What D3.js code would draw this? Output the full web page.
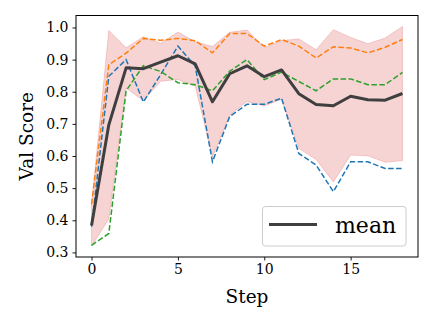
<!DOCTYPE html>
<html>
<head>
<meta charset="utf-8">
<script src="https://cdn.jsdelivr.net/npm/d3@7"></script>
<style>
  body { margin: 0; background: #fff; }
  text { font-family: 'DejaVu Serif', serif; fill: #000; }
</style>
</head>
<body>
<div id="chart"></div>
<script>
const steps = d3.range(0, 19);
const runBlue = [0.38, 0.848, 0.90, 0.768, 0.853, 0.942, 0.88, 0.582, 0.723, 0.761,
  0.761, 0.78, 0.608, 0.572, 0.489, 0.582, 0.582, 0.561, 0.561];
const runOrange = [0.45, 0.884, 0.92, 0.966, 0.96, 0.966, 0.959, 0.921, 0.981, 0.981,
  0.942, 0.9625, 0.942, 0.905, 0.94, 0.936, 0.921, 0.9385, 0.9625];
const runGreen = [0.322, 0.359, 0.803, 0.881, 0.863, 0.828, 0.822, 0.803, 0.864, 0.90,
  0.8375, 0.861, 0.832, 0.803, 0.84, 0.84, 0.822, 0.822, 0.86];
const xTicks = [0, 5, 10, 15];
const yTicks = [0.3, 0.4, 0.5, 0.6, 0.7, 0.8, 0.9, 1.0];

const runs = [
  { values: runBlue, color: '#1f77b4' },
  { values: runOrange, color: '#ff7f0e' },
  { values: runGreen, color: '#2ca02c' },
];

// mean and sample std across the runs, per step
const stats = steps.map((s, i) => {
  const vals = runs.map((r) => r.values[i]);
  const m = d3.mean(vals);
  const sd = d3.deviation(vals);
  return { step: s, mean: m, lo: m - sd, hi: m + sd };
});

const width = 434,
  height = 325;
const margin = {
  top: 15.5, right: 16, bottom: 68, left: 76,
};

const svg = d3.select('#chart')
  .append('svg')
  .attr('width', width)
  .attr('height', height);

const x = d3.scaleLinear()
  .domain([-0.9, 18.9])
  .range([margin.left, width - margin.right]);

const allVals = [].concat(
  stats.map((d) => d.lo), stats.map((d) => d.hi),
  runBlue, runOrange, runGreen,
);
const yMin = d3.min(allVals),
  yMax = d3.max(allVals),
  pad = (yMax - yMin) * 0.05;
const y = d3.scaleLinear()
  .domain([yMin - pad, yMax + pad])
  .range([height - margin.bottom, margin.top]);

const plot = svg.append('g');

// std band
const band = d3.area()
  .x((d) => x(d.step))
  .y0((d) => y(d.lo))
  .y1((d) => y(d.hi));

plot.append('path')
  .datum(stats)
  .attr('d', band)
  .attr('fill', '#d62728')
  .attr('fill-opacity', 0.2)
  .attr('stroke', '#d62728')
  .attr('stroke-opacity', 0.2)
  .attr('stroke-width', 1);

const runLine = d3.line()
  .x((d, i) => x(steps[i]))
  .y((d) => y(d));

plot.selectAll('.run')
  .data(runs)
  .enter()
  .append('path')
  .attr('class', 'run')
  .attr('d', (d) => runLine(d.values))
  .attr('fill', 'none')
  .attr('stroke', (d) => d.color)
  .attr('stroke-width', 1.5)
  .attr('stroke-dasharray', '5.55,2.4');

const meanLine = d3.line()
  .x((d) => x(d.step))
  .y((d) => y(d.mean));

plot.append('path')
  .datum(stats)
  .attr('d', meanLine)
  .attr('fill', 'none')
  .attr('stroke', '#3f3f3f')
  .attr('stroke-width', 3)
  .attr('stroke-linejoin', 'round');

// axes
const xAxis = svg.append('g')
  .attr('transform', `translate(0,${height - margin.bottom})`)
  .call(d3.axisBottom(x).tickValues(xTicks).tickSize(3.5).tickPadding(4));

const yAxis = svg.append('g')
  .attr('transform', `translate(${margin.left},0)`)
  .call(d3.axisLeft(y).tickValues(yTicks).tickFormat(d3.format('.1f'))
    .tickSize(3.5).tickPadding(4));

[xAxis, yAxis].forEach((a) => {
  a.select('.domain').remove();
  a.selectAll('line').attr('stroke', '#000').attr('stroke-width', 0.9);
  a.selectAll('text').attr('font-size', 14).attr('font-family', 'DejaVu Serif');
});

// frame
svg.append('rect')
  .attr('x', margin.left)
  .attr('y', margin.top)
  .attr('width', width - margin.left - margin.right)
  .attr('height', height - margin.top - margin.bottom)
  .attr('fill', 'none')
  .attr('stroke', '#000')
  .attr('stroke-width', 1);

// titles
svg.append('text')
  .attr('x', (margin.left + width - margin.right) / 2)
  .attr('y', 303)
  .attr('text-anchor', 'middle')
  .attr('font-size', 18.5)
  .text('Step');

svg.append('text')
  .attr('transform', `translate(33,${(margin.top + height - margin.bottom) / 2}) rotate(-90)`)
  .attr('text-anchor', 'middle')
  .attr('font-size', 18.5)
  .text('Val Score');

// legend
const legend = svg.append('g');
legend.append('rect')
  .attr('x', 262.5)
  .attr('y', 206.5)
  .attr('width', 143.5)
  .attr('height', 39.5)
  .attr('rx', 3)
  .attr('fill', '#fff')
  .attr('fill-opacity', 0.8)
  .attr('stroke', '#cccccc')
  .attr('stroke-width', 1);
legend.append('line')
  .attr('x1', 269)
  .attr('x2', 317)
  .attr('y1', 224.5)
  .attr('y2', 224.5)
  .attr('stroke', '#3f3f3f')
  .attr('stroke-width', 3);
legend.append('text')
  .attr('x', 335)
  .attr('y', 232.5)
  .attr('font-size', 22)
  .text('mean');
</script>
</body>
</html>
